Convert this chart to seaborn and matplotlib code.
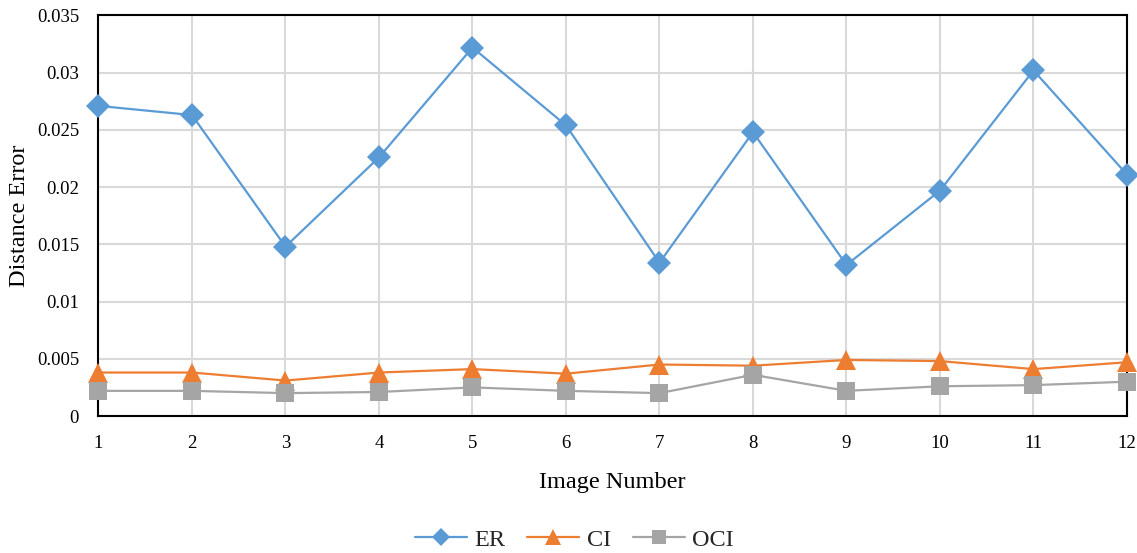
import matplotlib
matplotlib.use("Agg")
import matplotlib.pyplot as plt
import seaborn as sns
import pandas as pd

# Distance error per test image for each method
image_numbers = [1, 2, 3, 4, 5, 6, 7, 8, 9, 10, 11, 12]
er_values = [0.0271, 0.0263, 0.0148, 0.0226, 0.0322, 0.0254,
             0.0134, 0.0248, 0.0132, 0.0197, 0.0302, 0.0211]
ci_values = [0.0038, 0.0038, 0.0031, 0.0038, 0.0041, 0.0037,
             0.0045, 0.0044, 0.0049, 0.0048, 0.0041, 0.0047]
oci_values = [0.0022, 0.0022, 0.0020, 0.0021, 0.0025, 0.0022,
              0.0020, 0.0036, 0.0022, 0.0026, 0.0027, 0.0030]
methods = ["ER", "CI", "OCI"]
y_ticks = [0, 0.005, 0.01, 0.015, 0.02, 0.025, 0.03, 0.035]
y_tick_labels = ["0", "0.005", "0.01", "0.015", "0.02", "0.025", "0.03", "0.035"]

df = pd.DataFrame({
    "Image Number": image_numbers * 3,
    "Distance Error": er_values + ci_values + oci_values,
    "Method": [m for m in methods for _ in image_numbers],
})

sns.set_theme(style="white")
plt.rcParams["font.family"] = ["Liberation Serif", "DejaVu Serif"]

palette = {"ER": "#5B9BD5", "CI": "#ED7D31", "OCI": "#A5A5A5"}
markers = {"ER": "D", "CI": "^", "OCI": "s"}
sizes = {"ER": 12.5, "CI": 15, "OCI": 13.5}

fig = plt.figure(figsize=(11.37, 5.53), dpi=100)
ax = fig.add_axes([0.0866, 0.2477, 0.9046, 0.7243])

for m in methods:
    sub = df[df["Method"] == m]
    sns.lineplot(data=sub, x="Image Number", y="Distance Error", ax=ax,
                 color=palette[m], linewidth=1.6, label=m, clip_on=False,
                 zorder=3)
    line = ax.get_lines()[-1]
    line.set_marker(markers[m])
    line.set_markersize(sizes[m])
    line.set_markeredgewidth(0)
    line.set_markerfacecolor(palette[m])

ax.set_xlim(1, 12)
ax.set_ylim(0, 0.035)
ax.set_xticks(image_numbers)
ax.set_xticklabels([str(i) for i in image_numbers])
ax.set_yticks(y_ticks)
ax.set_yticklabels(y_tick_labels)
ax.tick_params(axis="both", labelsize=13.5, length=0, pad=14, colors="black")

ax.grid(True, color="#D9D9D9", linewidth=1.5)
ax.set_axisbelow(True)
for spine in ax.spines.values():
    spine.set_visible(True)
    spine.set_color("black")
    spine.set_linewidth(1.5)

ax.set_xlabel("Image Number", fontsize=17.5, labelpad=14, color="black")
ax.set_ylabel("Distance Error", fontsize=17.5, labelpad=5, color="black")

handles = ax.get_lines()[-3:]
labels = methods
ax.get_legend().remove()
legend = fig.legend(handles, labels, loc="center", bbox_to_anchor=(0.505, 0.024),
                    ncol=3, frameon=False, fontsize=17.5, handlelength=2.15,
                    columnspacing=0.9, handletextpad=0.3)
for h, m in zip(legend.get_lines(), methods):
    h.set_markersize(sizes[m] * 0.75)

fig.savefig("out.png", dpi=100)
